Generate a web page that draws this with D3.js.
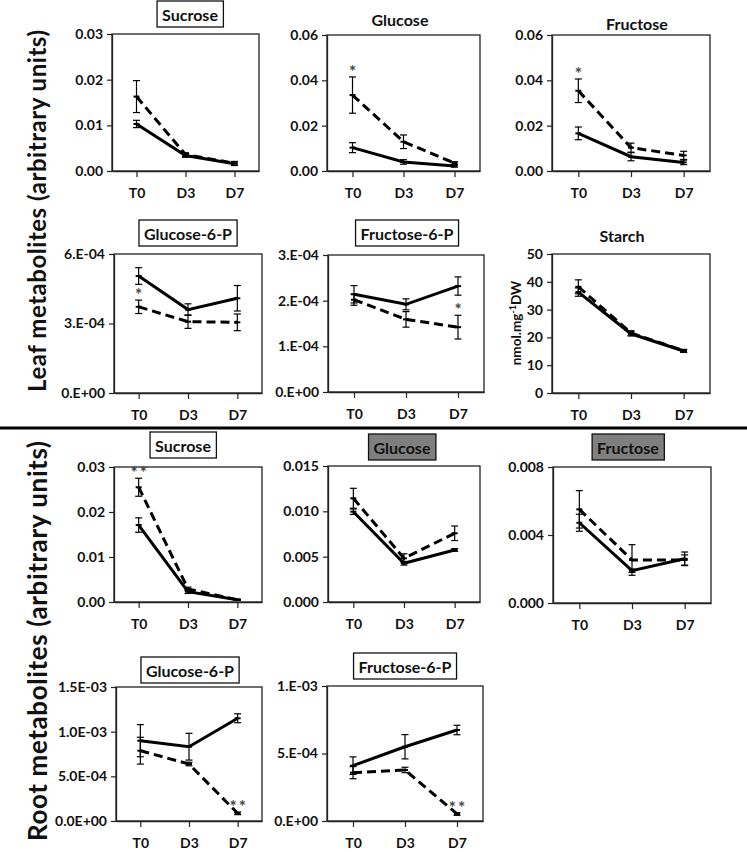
<!DOCTYPE html>
<html>
<head>
<meta charset="utf-8">
<script src="https://cdn.jsdelivr.net/npm/d3@7"></script>
<style>
body { margin: 0; background: #fff; }
text { font-family: Lato, "Open Sans", sans-serif; font-weight: bold; fill: #111; }
</style>
</head>
<body>
<svg id="chart" width="747" height="852"></svg>
<script>
const days = ["T0", "D3", "D7"];

// leaf metabolites (ctrl = solid line, trt = dashed line)
const leafSucroseCtrl = [0.0103, 0.0034, 0.0016];
const leafSucroseCtrlErr = [0.0008, 0.0004, 0.0004];
const leafSucroseTrt = [0.0163, 0.0036, 0.0017];
const leafSucroseTrtErr = [0.0035, 0.0004, 0.0004];
const leafSucroseStars = ["", "", ""];
const leafSucroseTicks = [0, 0.01, 0.02, 0.03];
const leafSucroseLabels = ["0.00", "0.01", "0.02", "0.03"];

const leafGlucoseCtrl = [0.0103, 0.0040, 0.0022];
const leafGlucoseCtrlErr = [0.0022, 0.0010, 0.0005];
const leafGlucoseTrt = [0.0335, 0.0129, 0.0035];
const leafGlucoseTrtErr = [0.0080, 0.0030, 0.0006];
const leafGlucoseStars = ["*", "", ""];
const leafGlucoseTicks = [0, 0.02, 0.04, 0.06];
const leafGlucoseLabels = ["0.00", "0.02", "0.04", "0.06"];

const leafFructoseCtrl = [0.0166, 0.0063, 0.0038];
const leafFructoseCtrlErr = [0.0028, 0.0018, 0.0010];
const leafFructoseTrt = [0.0354, 0.0103, 0.0069];
const leafFructoseTrtErr = [0.0052, 0.0020, 0.0018];
const leafFructoseStars = ["*", "", ""];
const leafFructoseTicks = [0, 0.02, 0.04, 0.06];
const leafFructoseLabels = ["0.00", "0.02", "0.04", "0.06"];

const leafG6PCtrl = [5.05e-4, 3.60e-4, 4.09e-4];
const leafG6PCtrlErr = [0.36e-4, 0.25e-4, 0.55e-4];
const leafG6PTrt = [3.72e-4, 3.08e-4, 3.05e-4];
const leafG6PTrtErr = [0.29e-4, 0.29e-4, 0.36e-4];
const leafG6PStars = ["*", "", ""];
const leafG6PTicks = [0, 3e-4, 6e-4];
const leafG6PLabels = ["0.E+00", "3.E-04", "6.E-04"];

const leafF6PCtrl = [2.14e-4, 1.92e-4, 2.32e-4];
const leafF6PCtrlErr = [0.19e-4, 0.12e-4, 0.20e-4];
const leafF6PTrt = [2.02e-4, 1.59e-4, 1.42e-4];
const leafF6PTrtErr = [0.12e-4, 0.17e-4, 0.26e-4];
const leafF6PStars = ["", "", "*"];
const leafF6PTicks = [0, 1e-4, 2e-4, 3e-4];
const leafF6PLabels = ["0.E+00", "1.E-04", "2.E-04", "3.E-04"];

const starchCtrl = [36.3, 21.3, 15.1];
const starchCtrlErr = [1.5, 0.8, 0.5];
const starchTrt = [38.2, 21.6, 15.2];
const starchTrtErr = [2.5, 0.8, 0.5];
const starchStars = ["", "", ""];
const starchTicks = [0, 10, 20, 30, 40, 50];
const starchLabels = ["0", "10", "20", "30", "40", "50"];

// root metabolites
const rootSucroseCtrl = [0.0171, 0.0023, 0.0005];
const rootSucroseCtrlErr = [0.0016, 0.0004, 0.0001];
const rootSucroseTrt = [0.0255, 0.0029, 0.0005];
const rootSucroseTrtErr = [0.0020, 0.0004, 0.0001];
const rootSucroseStars = ["**", "", ""];
const rootSucroseTicks = [0, 0.01, 0.02, 0.03];
const rootSucroseLabels = ["0.00", "0.01", "0.02", "0.03"];

const rootGlucoseCtrl = [0.00996, 0.00427, 0.00574];
const rootGlucoseCtrlErr = [0.0003, 0.0002, 0.00015];
const rootGlucoseTrt = [0.01144, 0.00482, 0.00758];
const rootGlucoseTrtErr = [0.0011, 0.0005, 0.0008];
const rootGlucoseStars = ["", "", ""];
const rootGlucoseTicks = [0, 0.005, 0.010, 0.015];
const rootGlucoseLabels = ["0.000", "0.005", "0.010", "0.015"];

const rootFructoseCtrl = [0.00472, 0.0019, 0.0026];
const rootFructoseCtrlErr = [0.0005, 0.0001, 0.0004];
const rootFructoseTrt = [0.00551, 0.00253, 0.00253];
const rootFructoseTrtErr = [0.0011, 0.0009, 0.0003];
const rootFructoseStars = ["", "", ""];
const rootFructoseTicks = [0, 0.004, 0.008];
const rootFructoseLabels = ["0.000", "0.004", "0.008"];

const rootG6PCtrl = [8.99e-4, 8.32e-4, 1.15e-3];
const rootG6PCtrlErr = [1.8e-4, 1.5e-4, 0.5e-4];
const rootG6PTrt = [7.87e-4, 6.38e-4, 0.86e-4];
const rootG6PTrtErr = [1.5e-4, 0.2e-4, 0.15e-4];
const rootG6PStars = ["", "", "**"];
const rootG6PTicks = [0, 5e-4, 1e-3, 1.5e-3];
const rootG6PLabels = ["0.0E+00", "5.0E-04", "1.0E-03", "1.5E-03"];

const rootF6PCtrl = [4.10e-4, 5.50e-4, 6.74e-4];
const rootF6PCtrlErr = [0.65e-4, 0.9e-4, 0.35e-4];
const rootF6PTrt = [3.58e-4, 3.78e-4, 0.52e-4];
const rootF6PTrtErr = [0.45e-4, 0.2e-4, 0.1e-4];
const rootF6PStars = ["", "", "**"];
const rootF6PTicks = [0, 5e-4, 1e-3];
const rootF6PLabels = ["0.E+00", "5.E-04", "1.E-03"];

// layout table built from the arrays above
const panels = [
    {title: "Sucrose", box: "line", tx: 190, ty: 14, x0: 112, x1: 259, y0: 34, y1: 171,
     ctrl: leafSucroseCtrl, ctrlErr: leafSucroseCtrlErr, trt: leafSucroseTrt, trtErr: leafSucroseTrtErr,
     stars: leafSucroseStars, ticks: leafSucroseTicks, labels: leafSucroseLabels},
    {title: "Glucose", box: "none", tx: 400, ty: 19, x0: 327, x1: 480, y0: 35, y1: 171,
     ctrl: leafGlucoseCtrl, ctrlErr: leafGlucoseCtrlErr, trt: leafGlucoseTrt, trtErr: leafGlucoseTrtErr,
     stars: leafGlucoseStars, ticks: leafGlucoseTicks, labels: leafGlucoseLabels},
    {title: "Fructose", box: "none", tx: 637, ty: 23, x0: 552, x1: 710, y0: 35, y1: 171,
     ctrl: leafFructoseCtrl, ctrlErr: leafFructoseCtrlErr, trt: leafFructoseTrt, trtErr: leafFructoseTrtErr,
     stars: leafFructoseStars, ticks: leafFructoseTicks, labels: leafFructoseLabels},
    {title: "Glucose-6-P", box: "line", tx: 188, ty: 233, x0: 114, x1: 262, y0: 254, y1: 393,
     ctrl: leafG6PCtrl, ctrlErr: leafG6PCtrlErr, trt: leafG6PTrt, trtErr: leafG6PTrtErr,
     stars: leafG6PStars, ticks: leafG6PTicks, labels: leafG6PLabels},
    {title: "Fructose-6-P", box: "line", tx: 407, ty: 233, x0: 328, x1: 484, y0: 255, y1: 392,
     ctrl: leafF6PCtrl, ctrlErr: leafF6PCtrlErr, trt: leafF6PTrt, trtErr: leafF6PTrtErr,
     stars: leafF6PStars, ticks: leafF6PTicks, labels: leafF6PLabels},
    {title: "Starch", box: "none", tx: 622, ty: 235, x0: 552, x1: 710, y0: 254, y1: 393,
     ctrl: starchCtrl, ctrlErr: starchCtrlErr, trt: starchTrt, trtErr: starchTrtErr,
     stars: starchStars, ticks: starchTicks, labels: starchLabels},
    {title: "Sucrose", box: "line", tx: 183, ty: 445, x0: 114, x1: 262, y0: 467, y1: 602,
     ctrl: rootSucroseCtrl, ctrlErr: rootSucroseCtrlErr, trt: rootSucroseTrt, trtErr: rootSucroseTrtErr,
     stars: rootSucroseStars, ticks: rootSucroseTicks, labels: rootSucroseLabels},
    {title: "Glucose", box: "grey", tx: 402, ty: 447, x0: 328, x1: 480, y0: 466, y1: 602,
     ctrl: rootGlucoseCtrl, ctrlErr: rootGlucoseCtrlErr, trt: rootGlucoseTrt, trtErr: rootGlucoseTrtErr,
     stars: rootGlucoseStars, ticks: rootGlucoseTicks, labels: rootGlucoseLabels},
    {title: "Fructose", box: "grey", tx: 628, ty: 447, x0: 553, x1: 711, y0: 467, y1: 603,
     ctrl: rootFructoseCtrl, ctrlErr: rootFructoseCtrlErr, trt: rootFructoseTrt, trtErr: rootFructoseTrtErr,
     stars: rootFructoseStars, ticks: rootFructoseTicks, labels: rootFructoseLabels},
    {title: "Glucose-6-P", box: "line", tx: 190, ty: 670, x0: 116, x1: 262, y0: 687, y1: 821,
     ctrl: rootG6PCtrl, ctrlErr: rootG6PCtrlErr, trt: rootG6PTrt, trtErr: rootG6PTrtErr,
     stars: rootG6PStars, ticks: rootG6PTicks, labels: rootG6PLabels},
    {title: "Fructose-6-P", box: "line", tx: 405, ty: 666, x0: 327, x1: 483, y0: 686, y1: 821,
     ctrl: rootF6PCtrl, ctrlErr: rootF6PCtrlErr, trt: rootF6PTrt, trtErr: rootF6PTrtErr,
     stars: rootF6PStars, ticks: rootF6PTicks, labels: rootF6PLabels}
];

const svg = d3.select("#chart");

function draw_panel(p){
    const g = svg.append("g");
    const x = d3.scalePoint().domain(days).range([p.x0, p.x1]).padding(0.5);
    const y = d3.scaleLinear().domain([p.ticks[0], p.ticks[p.ticks.length - 1]]).range([p.y1, p.y0]);

    // plot area frame
    g.append("rect")
        .attr("x", p.x0).attr("y", p.y0)
        .attr("width", p.x1 - p.x0).attr("height", p.y1 - p.y0)
        .attr("fill", "none").attr("stroke", "#222").attr("stroke-width", 1.3);

    const yAxis = g.append("g")
        .attr("transform", "translate(" + p.x0 + ",0)")
        .call(d3.axisLeft(y).tickValues(p.ticks).tickFormat((d, i) => p.labels[i])
            .tickSize(5).tickSizeOuter(0).tickPadding(4));
    yAxis.selectAll("text").attr("font-size", "14px");

    const xAxis = g.append("g")
        .attr("transform", "translate(0," + p.y1 + ")")
        .call(d3.axisBottom(x).tickSize(6).tickSizeOuter(0).tickPadding(11));
    xAxis.selectAll("text").attr("font-size", "14px");

    g.selectAll(".domain").attr("stroke", "#222").attr("stroke-width", 1.3);
    g.selectAll(".tick line").attr("stroke", "#222").attr("stroke-width", 1.2);
    g.selectAll(".tick text").style("font-family", "Lato, 'Open Sans', sans-serif").style("font-weight", "bold").attr("fill", "#111");

    const line = d3.line()
        .x((d, i) => x(days[i]))
        .y(d => y(d));

    g.append("path")
        .attr("d", line(p.ctrl))
        .attr("fill", "none").attr("stroke", "#000").attr("stroke-width", 3);
    g.append("path")
        .attr("d", line(p.trt))
        .attr("fill", "none").attr("stroke", "#000").attr("stroke-width", 3)
        .attr("stroke-dasharray", "9,5");

    [[p.ctrl, p.ctrlErr], [p.trt, p.trtErr]].forEach(function(s){
        const vals = s[0], errs = s[1];
        days.forEach(function(day, i){
            const cx = x(day);
            const top = y(vals[i] + errs[i]);
            const bot = y(vals[i] - errs[i]);
            g.append("line").attr("x1", cx).attr("x2", cx).attr("y1", top).attr("y2", bot)
                .attr("stroke", "#000").attr("stroke-width", 1.2);
            g.append("line").attr("x1", cx - 3.5).attr("x2", cx + 3.5).attr("y1", top).attr("y2", top)
                .attr("stroke", "#000").attr("stroke-width", 1.2);
            g.append("line").attr("x1", cx - 3.5).attr("x2", cx + 3.5).attr("y1", bot).attr("y2", bot)
                .attr("stroke", "#000").attr("stroke-width", 1.2);
            g.append("line").attr("x1", cx - 3).attr("x2", cx + 3).attr("y1", y(vals[i])).attr("y2", y(vals[i]))
                .attr("stroke", "#000").attr("stroke-width", 2);
        });
    });

    // significance stars above dashed error bar
    days.forEach(function(day, i){
        if(p.stars[i] === "") return;
        g.append("text")
            .attr("x", x(day) + 1)
            .attr("y", y(p.trt[i] + p.trtErr[i]) + 1)
            .attr("text-anchor", "middle")
            .attr("font-size", "17px")
            .attr("letter-spacing", "2px")
            .style("fill", "#444")
            .text(p.stars[i]);
    });

    // title (optionally boxed)
    const title = g.append("text")
        .attr("x", p.tx).attr("y", p.ty)
        .attr("text-anchor", "middle")
        .attr("dominant-baseline", "central")
        .attr("font-size", "16px")
        .text(p.title);
    if(p.box !== "none"){
        const bb = title.node().getBBox();
        g.append("rect")
            .attr("x", bb.x - 5).attr("y", p.ty - 13)
            .attr("width", bb.width + 10).attr("height", 26)
            .attr("fill", p.box === "grey" ? "#7f7f7f" : "#fff")
            .attr("stroke", "#111").attr("stroke-width", 1.3);
        title.raise();
    }
}

panels.forEach(draw_panel);

// starch unit label
const unit = svg.append("text")
    .attr("transform", "translate(521,323) rotate(-90)")
    .attr("text-anchor", "middle")
    .attr("font-size", "13.5px");
unit.append("tspan").text("nmol.mg");
unit.append("tspan").attr("font-size", "9px").attr("dy", -5).text("-1");
unit.append("tspan").attr("dy", 5).text("DW");

// big row labels
svg.append("text")
    .attr("transform", "translate(46,211) rotate(-90)")
    .attr("text-anchor", "middle")
    .attr("font-size", "24px")
    .attr("textLength", 362)
    .attr("lengthAdjust", "spacing")
    .text("Leaf metabolites (arbitrary units)");
svg.append("text")
    .attr("transform", "translate(47,641) rotate(-90)")
    .attr("text-anchor", "middle")
    .attr("font-size", "26px")
    .attr("textLength", 400)
    .attr("lengthAdjust", "spacing")
    .text("Root metabolites (arbitrary units)");

// separator between leaf and root
svg.append("line")
    .attr("x1", 0).attr("x2", 747)
    .attr("y1", 428).attr("y2", 428)
    .attr("stroke", "#000").attr("stroke-width", 3);
</script>
</body>
</html>
